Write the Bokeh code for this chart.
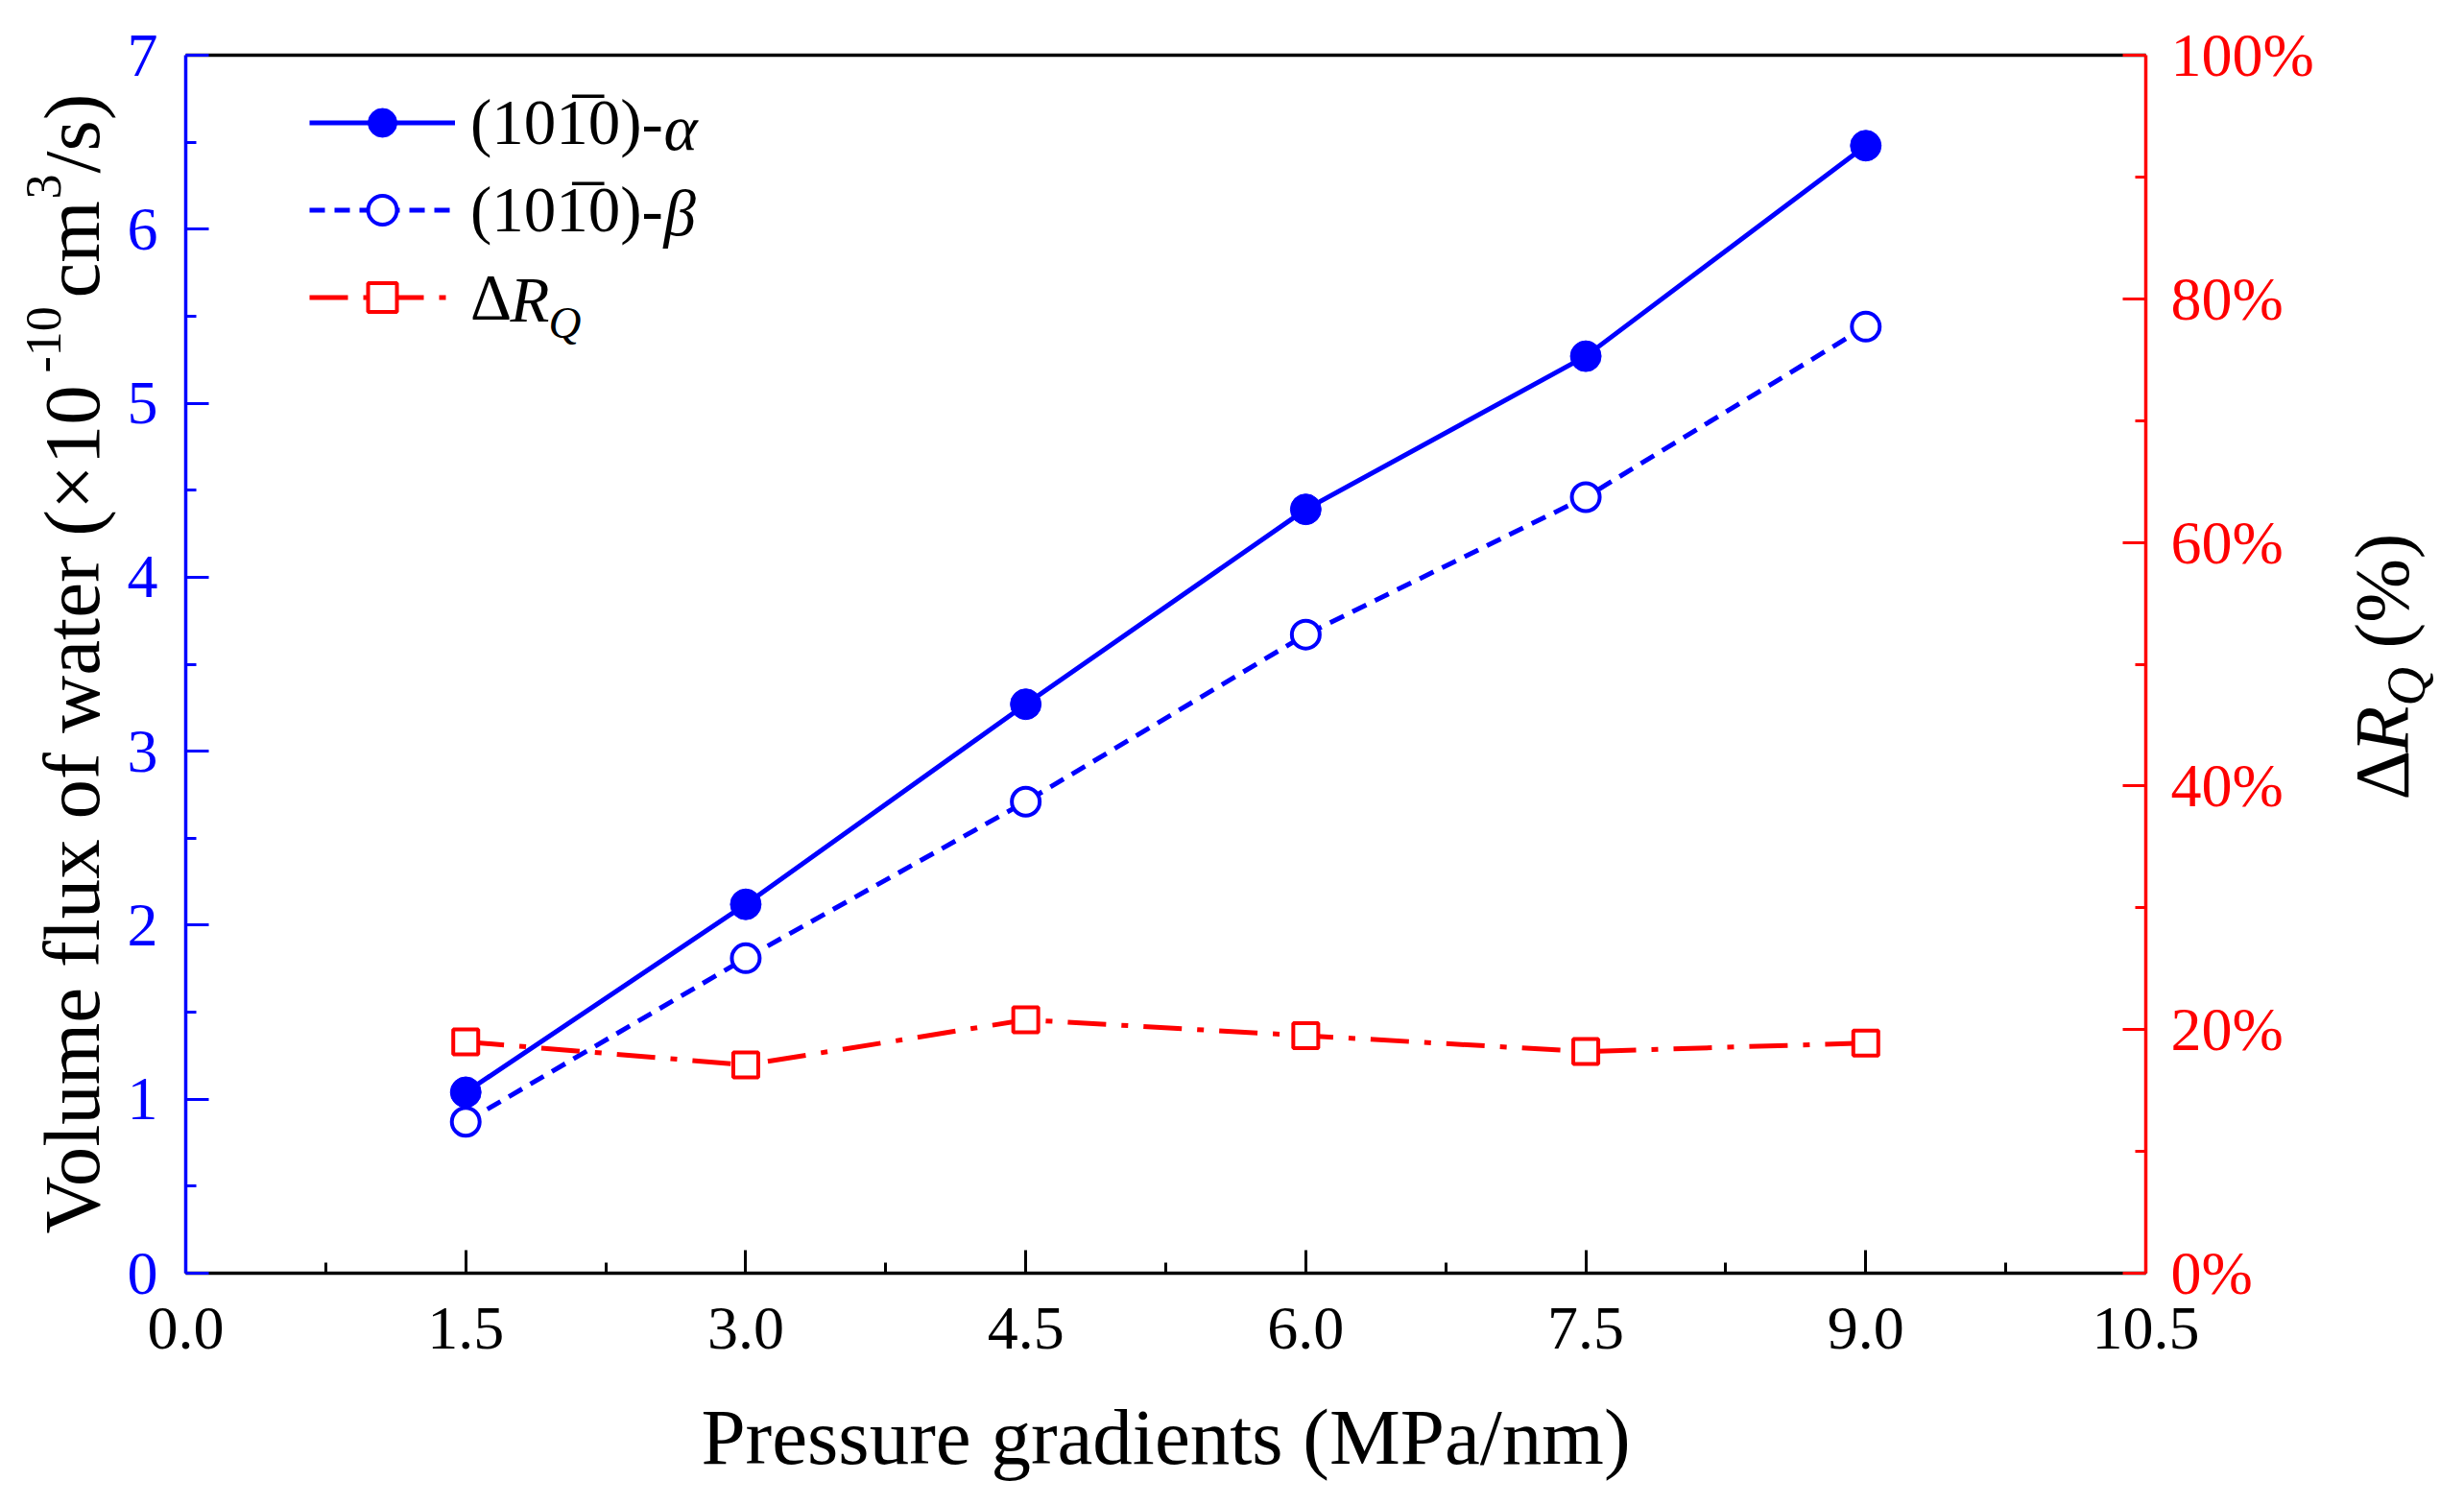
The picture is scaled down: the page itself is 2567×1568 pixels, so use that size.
from math import pi

from bokeh.embed import file_html
from bokeh.resources import INLINE
from bokeh.layouts import row
from bokeh.plotting import figure
from bokeh.models import (Range1d, LinearAxis, FixedTicker, PrintfTickFormatter,
                          Legend, LegendItem, Label)

# data
pressure = [1.5, 3.0, 4.5, 6.0, 7.5, 9.0]
flux_alpha = [1.04, 2.12, 3.27, 4.39, 5.27, 6.48]
flux_beta = [0.87, 1.81, 2.71, 3.67, 4.46, 5.44]
delta_rq = [19.0, 17.1, 20.8, 19.5, 18.2, 18.9]

x_ticks = [0.0, 1.5, 3.0, 4.5, 6.0, 7.5, 9.0, 10.5]
x_minor = [0.75, 2.25, 3.75, 5.25, 6.75, 8.25, 9.75]
y_ticks = [0, 1, 2, 3, 4, 5, 6, 7]
y_minor = [0.5, 1.5, 2.5, 3.5, 4.5, 5.5, 6.5]
pct_ticks = [0, 20, 40, 60, 80, 100]
pct_minor = [10, 30, 50, 70, 90]

BLUE = "#0000FF"
RED = "#FF0000"
FONT = "Liberation Serif"
H = 1552
TOP, BOTTOM = 57, 226

p = figure(width=2305, height=H, output_backend="svg", toolbar_location=None,
           x_range=Range1d(0, 10.5), y_range=Range1d(0, 7),
           min_border_left=68, min_border_right=195,
           min_border_top=TOP, min_border_bottom=BOTTOM)
p.extra_y_ranges = {"pct": Range1d(0, 100)}
p.xgrid.visible = False
p.ygrid.visible = False
p.outline_line_color = None


def style_axis(ax, color, ticks, minor):
    ax.ticker = FixedTicker(ticks=ticks, minor_ticks=minor)
    ax.axis_line_color = color
    ax.axis_line_width = 3.5
    ax.major_tick_line_color = color
    ax.minor_tick_line_color = color
    ax.major_tick_line_width = 3
    ax.minor_tick_line_width = 3
    ax.major_tick_in = 24
    ax.major_tick_out = 0
    ax.minor_tick_in = 11
    ax.minor_tick_out = 0
    ax.major_label_text_color = color
    ax.major_label_text_font = FONT
    ax.major_label_text_font_size = "64px"
    ax.major_label_standoff = 29
    ax.axis_label_text_font = FONT
    ax.axis_label_text_font_style = "normal"
    ax.axis_label_text_color = "black"
    ax.axis_label_text_font_size = "83px"


xa = p.xaxis[0]
style_axis(xa, "black", x_ticks, x_minor)
xa.formatter = PrintfTickFormatter(format="%.1f")
xa.major_label_standoff = 36
xa.axis_label = "Pressure gradients (MPa/nm)"
xa.axis_label_standoff = 43

ya = p.yaxis[0]
style_axis(ya, BLUE, y_ticks, y_minor)

ra = LinearAxis(y_range_name="pct")
style_axis(ra, RED, pct_ticks, pct_minor)
ra.major_label_standoff = 26
ra.formatter = PrintfTickFormatter(format="%d%%")
p.add_layout(ra, "right")

ta = LinearAxis(ticker=FixedTicker(ticks=[]), axis_line_color="black",
                axis_line_width=3.5, major_tick_line_color=None,
                minor_tick_line_color=None)
p.add_layout(ta, "above")

# series
la = p.line(pressure, flux_alpha, line_color=BLUE, line_width=5)
sa = p.scatter(pressure, flux_alpha, marker="circle", size=32,
               fill_color=BLUE, line_color=BLUE)
lb = p.line(pressure, flux_beta, line_color=BLUE, line_width=5, line_dash="16 10")
sb = p.scatter(pressure, flux_beta, marker="circle", size=29,
               fill_color="white", line_color=BLUE, line_width=4)
lr = p.line(pressure, delta_rq, y_range_name="pct", line_color=RED,
            line_width=5, line_dash="40 16 7 16")
sr = p.scatter(pressure, delta_rq, y_range_name="pct", marker="square", size=26,
               fill_color="white", line_color=RED, line_width=4)

legend = Legend(items=[
    LegendItem(label="(101\u03050)-", renderers=[la, sa]),
    LegendItem(label="(101\u03050)-", renderers=[lb, sb]),
    LegendItem(label="\u0394", renderers=[lr, sr]),
], location=(129, 978))
legend.glyph_width = 152
legend.glyph_height = 75
legend.label_height = 75
legend.spacing = 14
legend.padding = 0
legend.margin = 0
legend.label_standoff = 16
legend.border_line_color = None
legend.background_fill_alpha = 0
legend.label_text_font = FONT
legend.label_text_font_size = "67px"
legend.label_text_color = "black"
legend.label_text_baseline = "middle"
p.add_layout(legend, "center")

# italic parts of the legend labels
leg_rows = [1194, 1105, 1015]
for txt, yy in [("α", leg_rows[0]), ("β", leg_rows[1])]:
    p.add_layout(Label(x=498, y=yy, x_units="screen", y_units="screen", text=txt,
                       text_font=FONT, text_font_size="67px", text_font_style="italic",
                       text_baseline="middle", text_color="black"))
p.add_layout(Label(x=338, y=leg_rows[2], x_units="screen", y_units="screen", text="R",
                   text_font=FONT, text_font_size="67px", text_font_style="italic",
                   text_baseline="middle", text_color="black"))
p.add_layout(Label(x=378, y=leg_rows[2] - 24, x_units="screen", y_units="screen", text="Q",
                   text_font=FONT, text_font_size="47px", text_font_style="italic",
                   text_baseline="middle", text_color="black"))


def side_fig(w):
    f = figure(width=w, height=H, output_backend="svg", toolbar_location=None,
               x_axis_location=None, y_axis_location=None,
               min_border_left=0, min_border_right=0,
               min_border_top=TOP, min_border_bottom=BOTTOM,
               x_range=Range1d(0, 1), y_range=Range1d(0, 1))
    f.grid.visible = False
    f.outline_line_color = None
    return f


def vtext(f, base_x, y, text, size, style="normal"):
    # base_x is where the baseline should sit; middle anchor lies 0.3375 em above it
    f.add_layout(Label(x=base_x - 0.3375 * size, y=y, x_units="screen", y_units="screen",
                       text=text, angle=pi / 2, text_font=FONT,
                       text_font_size=f"{size}px", text_font_style=style,
                       text_color="black", text_baseline="middle", text_align="left"))


# left title: Volume flux of water (x10^-10 cm^3/s)
left = side_fig(125)
vtext(left, 103, 41, "Volume flux of water (×10", 83)
vtext(left, 63, 938, "-10", 52)
vtext(left, 103, 1016, "cm", 83)
vtext(left, 63, 1119, "3", 52)
vtext(left, 103, 1146, "/s)", 83)

# right title: ΔR_Q (%)
right = side_fig(121)
vtext(right, 78, 493, "\u0394", 80)
vtext(right, 78, 542, "R", 80, "italic")
vtext(right, 95, 591, "Q", 56, "italic")
vtext(right, 78, 651, "(%)", 80)

layout = row(left, p, right)
open("out.html", "w").write(file_html(layout, INLINE))
